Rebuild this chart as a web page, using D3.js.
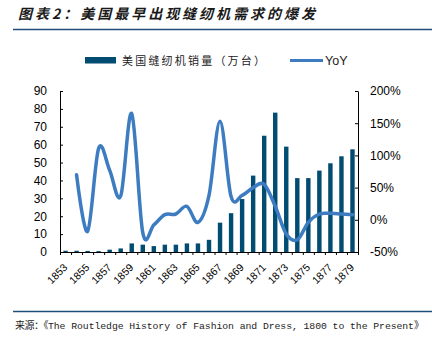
<!DOCTYPE html>
<html>
<head>
<meta charset="utf-8">
<script src="https://cdn.jsdelivr.net/npm/d3@7"></script>
<style>
  html, body { margin: 0; padding: 0; background: #fff; }
  svg { display: block; }
</style>
</head>
<body>
<svg id="chart" width="432" height="337"></svg>
<script>
// Years on the category axis
const years = ["1853","1854","1855","1856","1857","1858","1859","1860","1861","1862",
               "1863","1864","1865","1866","1867","1868","1869","1870","1871","1872",
               "1873","1874","1875","1876","1877","1878","1879"];
// US sewing machine sales, ten-thousand units
const sales = [0.7, 0.7, 0.6, 0.5, 1.3, 2.0, 4.8, 4.1, 3.3, 4.1,
               4.1, 4.8, 4.8, 6.8, 16.4, 21.7, 29.6, 42.7, 65.0, 77.9,
               58.9, 41.3, 41.3, 45.5, 49.6, 53.5, 57.4];
// Year-over-year growth (no value for the first year)
const yoy = [null, 0.70, -0.18, 1.11, 0.77, 0.37, 1.65, -0.20, -0.08, 0.08,
             0.09, 0.21, -0.04, 0.38, 1.53, 0.36, 0.38, 0.50, 0.55, 0.21,
             -0.22, -0.31, -0.04, 0.09, 0.10, 0.09, 0.08];
const salesTicks = [0, 10, 20, 30, 40, 50, 60, 70, 80, 90];
const yoyTicks = [-0.5, 0, 0.5, 1, 1.5, 2];
const yearLabels = ["1853","1855","1857","1859","1861","1863","1865","1867",
                    "1869","1871","1873","1875","1877","1879"];

const titleText = "图表2：美国最早出现缝纫机需求的爆发";
const salesName = "美国缝纫机销量（万台）";
const yoyName = "YoY";
const sourceHead = "来源：";
const sourceBody = "The Routledge History of Fashion and Dress, 1800 to the Present";

const barColor = "#024b71";
const lineColor = "#3d7cc1";
const ruleColor = "#1f4e79";
const latin = "'Liberation Sans', Arial, sans-serif";
const cjk = "'Noto Sans CJK SC', sans-serif";

const svg = d3.select("#chart");
svg.append("rect").attr("width", 432).attr("height", 337).attr("fill", "#fff");

const plotLeft = 60, plotRight = 358, plotTop = 91, plotBottom = 252;

const x = d3.scaleBand().domain(years).range([plotLeft, plotRight])
  .paddingInner(0.6).paddingOuter(0.3);
const xEdge = d3.scaleLinear().domain([0, years.length]).range([plotLeft, plotRight]);
const yL = d3.scaleLinear().domain([0, 90]).range([plotBottom, plotTop]);
const yR = d3.scaleLinear().domain([-0.5, 2]).range([plotBottom, plotTop]);

// Title and rule beneath it
svg.append("text")
  .attr("x", 18).attr("y", 18.5)
  .attr("font-family", cjk).attr("font-size", 14).attr("font-weight", 700)
  .attr("font-style", "italic").attr("fill", "#1a1a1a")
  .attr("textLength", 297).attr("lengthAdjust", "spacing")
  .text(titleText);
svg.append("line").attr("x1", 13).attr("x2", 432).attr("y1", 29.5).attr("y2", 29.5)
  .attr("stroke", ruleColor).attr("stroke-width", 1.3);

// Legend
const legend = svg.append("g");
legend.append("rect").attr("x", 85).attr("y", 57).attr("width", 31).attr("height", 6.5)
  .attr("fill", barColor);
legend.append("text").attr("x", 122).attr("y", 64.5)
  .attr("font-family", cjk).attr("font-size", 11).attr("fill", "#222")
  .attr("textLength", 143).attr("lengthAdjust", "spacing")
  .text(salesName);
legend.append("line").attr("x1", 290).attr("x2", 323).attr("y1", 60.5).attr("y2", 60.5)
  .attr("stroke", lineColor).attr("stroke-width", 3);
legend.append("text").attr("x", 325).attr("y", 65)
  .attr("font-family", latin).attr("font-size", 12.5).attr("fill", "#222")
  .text(yoyName);

// Bars
svg.append("g").selectAll("rect").data(years).join("rect")
  .attr("x", (d) => x(d))
  .attr("width", x.bandwidth())
  .attr("y", (d, i) => yL(sales[i]))
  .attr("height", (d, i) => yL(0) - yL(sales[i]))
  .attr("fill", barColor);

// Axes
const axisFont = (g) => g.selectAll("text")
  .attr("font-family", latin).attr("font-size", 12).attr("fill", "#000");

svg.append("g").attr("transform", `translate(${plotLeft},0)`)
  .call(d3.axisLeft(yL).tickValues(salesTicks).tickSizeInner(-3).tickSizeOuter(0).tickPadding(13))
  .call(axisFont);

svg.append("g").attr("transform", `translate(${plotRight},0)`)
  .call(d3.axisRight(yR).tickValues(yoyTicks).tickSizeInner(-3).tickSizeOuter(0).tickPadding(12)
    .tickFormat((d) => Math.round(d * 100) + "%"))
  .call(axisFont);

svg.append("g").attr("transform", `translate(0,${plotBottom})`)
  .call(d3.axisBottom(xEdge).tickValues(d3.range(years.length + 1)).tickSize(3)
    .tickSizeOuter(0).tickFormat(""));

svg.selectAll(".domain, .tick line").attr("stroke", "#000");

// Rotated year labels
svg.append("g").selectAll("text").data(yearLabels).join("text")
  .attr("transform", (d) => `translate(${x(d) + x.bandwidth() / 2 + 2.5},268) rotate(-45)`)
  .attr("text-anchor", "end")
  .attr("font-family", latin).attr("font-size", 10.5).attr("fill", "#000")
  .text((d) => d);

// Smoothed YoY line
const pts = years.map((d, i) => ({ year: d, v: yoy[i] }));
svg.append("path")
  .datum(pts)
  .attr("fill", "none")
  .attr("stroke", lineColor)
  .attr("stroke-width", 3.5)
  .attr("stroke-linecap", "round")
  .attr("stroke-linejoin", "round")
  .attr("d", d3.line()
    .defined((d) => d.v != null)
    .x((d) => x(d.year) + x.bandwidth() / 2)
    .y((d) => yR(d.v))
    .curve(d3.curveCardinal.tension(0)));

// Source note: CJK runs in Noto, the book title in a monospace face
svg.append("line").attr("x1", 13).attr("x2", 432).attr("y1", 311.5).attr("y2", 311.5)
  .attr("stroke", ruleColor).attr("stroke-width", 1.3);
const src = svg.append("text").attr("x", 15).attr("y", 328.5).attr("fill", "#222");
src.append("tspan")
  .attr("font-family", cjk).attr("font-size", 10).attr("letter-spacing", -0.5)
  .text(sourceHead + "《");
src.append("tspan")
  .attr("font-family", "'Liberation Mono', 'DejaVu Sans Mono', monospace").attr("font-size", 9.8)
  .attr("textLength", 366).attr("lengthAdjust", "spacing")
  .text(sourceBody);
src.append("tspan")
  .attr("font-family", cjk).attr("font-size", 10).text("》");
</script>
</body>
</html>
